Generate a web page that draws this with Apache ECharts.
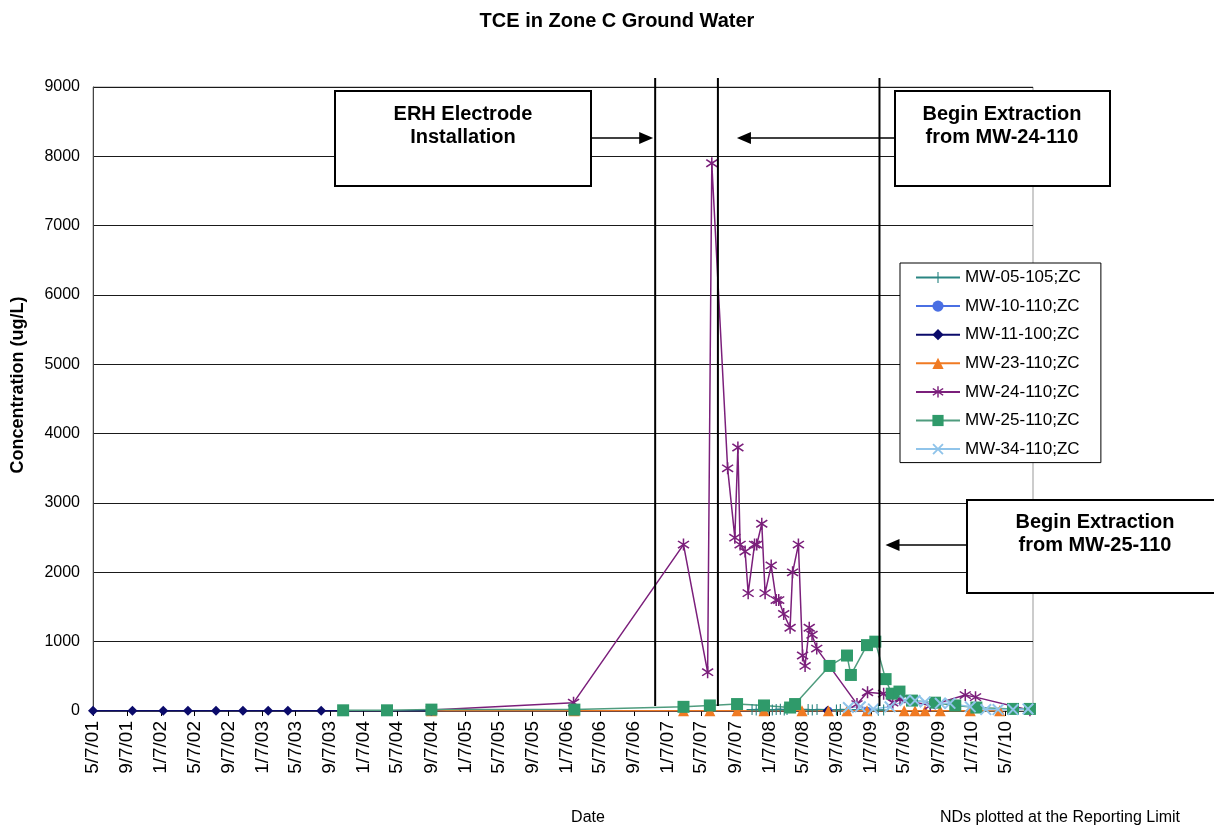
<!DOCTYPE html>
<html>
<head>
<meta charset="utf-8">
<title>TCE in Zone C Ground Water</title>
<script src="https://cdn.jsdelivr.net/npm/echarts@6/dist/echarts.min.js"></script>
<style>
    html, body { margin: 0; padding: 0; background: #fff; }
    #chart { width: 1214px; height: 831px; }
</style>
</head>
<body>
<div id="chart"></div>
<script>
// sampling dates and TCE concentrations (ug/L)
let mw05Dates = ['2007-11-06', '2007-11-21', '2007-12-05', '2008-01-03', '2008-01-18', '2008-02-01', '2008-02-16',
    '2008-03-01', '2008-03-11', '2008-05-26', '2008-06-10', '2008-06-27', '2008-09-05', '2008-09-19', '2009-02-03', '2009-02-22'];
let mw05Vals = [20, 15, 25, 20, 15, 20, 25, 15, 20, 20, 15, 20, 15, 20, 10, 15];

let mw10Dates = ['2008-08-07', '2008-12-24'];
let mw10Vals = [5, 5];

let mw11Dates = ['2001-05-07', '2001-09-26', '2002-01-15', '2002-04-14', '2002-07-24', '2002-10-29', '2003-01-28',
    '2003-04-09', '2003-08-07', '2008-08-04'];
let mw11Vals = [5, 5, 5, 5, 5, 5, 5, 5, 5, 5];

let mw23Dates = ['2004-09-07', '2006-02-04', '2007-03-04', '2007-06-07', '2007-09-13', '2007-12-19', '2008-05-04',
    '2008-08-07', '2008-10-13', '2008-12-24', '2009-05-07', '2009-06-15', '2009-07-21', '2009-09-14', '2009-12-31', '2010-04-16'];
let mw23Vals = [2, 2, 2, 2, 2, 2, 2, 2, 2, 2, 2, 2, 2, 2, 2, 2];

let mw24Dates = ['2004-09-07', '2006-02-01', '2007-03-04', '2007-05-30', '2007-06-14', '2007-08-10', '2007-09-05',
    '2007-09-16', '2007-09-24', '2007-10-12', '2007-10-23', '2007-11-15', '2007-11-23', '2007-12-11', '2007-12-23',
    '2008-01-14', '2008-02-01', '2008-02-10', '2008-02-28', '2008-03-22', '2008-03-31', '2008-04-21', '2008-05-06',
    '2008-05-15', '2008-05-30', '2008-06-09', '2008-06-26', '2008-11-18', '2008-12-26', '2009-02-22', '2009-03-27',
    '2009-04-22', '2009-08-09', '2009-12-13', '2010-01-19', '2010-08-03'];
let mw24Vals = [15, 120, 2400, 560, 7900, 3500, 2500, 3800, 2400, 2300, 1700, 2400, 2400, 2700, 1700, 2100, 1600, 1600,
    1400, 1200, 2000, 2400, 800, 650, 1200, 1100, 900, 100, 270, 250, 120, 170, 80, 230, 200, 10];

let mw25Dates = ['2003-10-25', '2004-03-31', '2004-09-07', '2006-02-04', '2007-03-04', '2007-06-07', '2007-09-13',
    '2007-12-19', '2008-03-22', '2008-04-09', '2008-08-11', '2008-10-13', '2008-10-27', '2008-12-24', '2009-01-23',
    '2009-03-01', '2009-03-23', '2009-04-20', '2009-06-04', '2009-08-26', '2009-11-07', '2010-01-22', '2010-06-03', '2010-08-03'];
let mw25Vals = [10, 10, 20, 20, 60, 80, 100, 80, 50, 100, 650, 800, 520, 950, 1000, 460, 250, 280, 150, 120, 80, 50, 30, 30];

let mw34Dates = ['2008-10-18', '2008-11-30', '2009-01-16', '2009-03-17', '2009-05-10', '2009-06-15', '2009-07-21',
    '2009-09-14', '2009-10-19', '2009-12-31', '2010-02-25', '2010-04-10', '2010-06-03', '2010-07-27'];
let mw34Vals = [50, 60, 30, 60, 150, 150, 130, 110, 110, 60, 20, 20, 20, 30];

// x tick labels, every 4 months
let xTickDates = ['2001-05-07', '2001-09-07', '2002-01-07', '2002-05-07', '2002-09-07', '2003-01-07', '2003-05-07',
    '2003-09-07', '2004-01-07', '2004-05-07', '2004-09-07', '2005-01-07', '2005-05-07', '2005-09-07', '2006-01-07',
    '2006-05-07', '2006-09-07', '2007-01-07', '2007-05-07', '2007-09-07', '2008-01-07', '2008-05-07', '2008-09-07',
    '2009-01-07', '2009-05-07', '2009-09-07', '2010-01-07', '2010-05-07'];
let xMin = '2001-05-07';
let xMax = '2010-08-14';

// remediation events (vertical lines)
let eventDates = ['2006-11-22', '2007-07-06', '2009-02-07'];
let eventLabels = ['ERH Electrode\nInstallation', 'Begin Extraction\nfrom MW-24-110', 'Begin Extraction\nfrom MW-25-110'];

let fontFamily = '"Liberation Sans", Arial, sans-serif';

function toTime(s) {
    let p = s.split('-');
    return new Date(+p[0], p[1] - 1, +p[2]).getTime();
}
function fmtDate(val) {
    let d = new Date(val);
    return (d.getMonth() + 1) + '/' + d.getDate() + '/' + String(d.getFullYear()).slice(2);
}

// symbol paths (filled shapes in a 20x20 box)
let plusPath = 'path://M9,0H11V20H9ZM0,9H20V11H0Z';
let starPath = 'path://M8.9,0H11.1V20H8.9Z' +
    'M2.72,3.04L18.72,15.04L17.28,16.96L1.28,4.96Z' +
    'M1.28,15.04L17.28,3.04L18.72,4.96L2.72,16.96Z';
let crossPath = 'path://M1.5,3.5L3.5,1.5L18.5,16.5L16.5,18.5Z' +
    'M1.5,16.5L16.5,1.5L18.5,3.5L3.5,18.5Z';

function makeSeries(name, dates, vals, color, symbol, size, lineColor) {
    return {
        name: name,
        type: 'line',
        data: dates.map(function (d, i) { return [toTime(d), vals[i]]; }),
        symbol: symbol,
        symbolSize: size,
        showAllSymbol: true,
        itemStyle: { color: color },
        lineStyle: { color: lineColor || color, width: 1.5 },
        emphasis: { disabled: true }
    };
}

let tickTimes = xTickDates.map(toTime);

let chart = echarts.init(document.getElementById('chart'));
let option = {
    animation: false,
    backgroundColor: '#fff',
    textStyle: { fontFamily: fontFamily },
    legend: {
        orient: 'vertical',
        left: 900,
        top: 263,
        padding: [6, 20, 5, 15],
        itemWidth: 44,
        itemHeight: 14,
        itemGap: 11.6,
        backgroundColor: '#fff',
        borderColor: '#000',
        borderWidth: 1,
        borderRadius: 0,
        textStyle: { fontSize: 17, color: '#000', fontFamily: fontFamily }
    },
    grid: {
        left: 93,
        right: 181,
        top: 87,
        bottom: 120,
        show: true,
        borderColor: '#999',
        borderWidth: 1
    },
    xAxis: {
        type: 'value',
        min: toTime(xMin),
        max: toTime(xMax),
        axisLine: { lineStyle: { color: '#444', width: 1 } },
        axisTick: {
            show: true,
            length: 5,
            customValues: tickTimes,
            lineStyle: { color: '#000' }
        },
        axisLabel: {
            rotate: 90,
            fontSize: 19,
            color: '#000',
            margin: 10,
            customValues: tickTimes,
            formatter: fmtDate
        },
        splitLine: { show: false }
    },
    yAxis: {
        type: 'value',
        min: 0,
        max: 9000,
        interval: 1000,
        axisLine: { show: true, lineStyle: { color: '#444' } },
        axisTick: { show: false },
        axisLabel: {
            fontSize: 16,
            color: '#000',
            margin: 13,
            formatter: function (v) { return String(v); }
        },
        splitLine: { lineStyle: { color: '#1a1a1a', width: 1 } }
    },
    series: [
        makeSeries('MW-05-105;ZC', mw05Dates, mw05Vals, '#2a8582', plusPath, 11),
        makeSeries('MW-10-110;ZC', mw10Dates, mw10Vals, '#4a6fe3', 'circle', 8),
        makeSeries('MW-11-100;ZC', mw11Dates, mw11Vals, '#0b0b6b', 'diamond', 10),
        makeSeries('MW-23-110;ZC', mw23Dates, mw23Vals, '#f07a22', 'triangle', 11),
        makeSeries('MW-24-110;ZC', mw24Dates, mw24Vals, '#7b1f7b', starPath, 12),
        makeSeries('MW-25-110;ZC', mw25Dates, mw25Vals, '#2f9a6a', 'rect', 12, '#4f9c7e'),
        makeSeries('MW-34-110;ZC', mw34Dates, mw34Vals, '#90c4ea', crossPath, 12)
    ]
};
chart.setOption(option);

// event lines, boxes and arrows placed from the x scale
let lineX = eventDates.map(function (d) {
    return chart.convertToPixel({ xAxisIndex: 0 }, toTime(d));
});
let boxes = [
    { x: 335, y: 91, w: 256, h: 95, textX: 463, textY: 126, arrowY: 138, from: 591, to: lineX[0] - 2 },
    { x: 895, y: 91, w: 215, h: 95, textX: 1002, textY: 126, arrowY: 138, from: 895, to: lineX[1] + 19 },
    { x: 967, y: 500, w: 260, h: 93, textX: 1095, textY: 534, arrowY: 545, from: 967, to: lineX[2] + 6 }
];
let graphics = [];
lineX.forEach(function (x) {
    graphics.push({
        type: 'line', z: 10,
        shape: { x1: x, y1: 78, x2: x, y2: 706 },
        style: { stroke: '#000', lineWidth: 2 }
    });
});
boxes.forEach(function (b, i) {
    let dir = b.to > b.from ? 1 : -1;
    graphics.push({
        type: 'rect', z: 11,
        shape: { x: b.x, y: b.y, width: b.w, height: b.h },
        style: { fill: '#fff', stroke: '#000', lineWidth: 2 }
    });
    graphics.push({
        type: 'text', z: 12,
        x: b.textX,
        y: b.textY,
        style: {
            text: eventLabels[i],
            fill: '#000',
            font: 'bold 20px ' + fontFamily,
            align: 'center',
            verticalAlign: 'middle',
            lineHeight: 23
        }
    });
    graphics.push({
        type: 'line', z: 11,
        shape: { x1: b.from, y1: b.arrowY, x2: b.to - dir * 10, y2: b.arrowY },
        style: { stroke: '#000', lineWidth: 1.5 }
    });
    graphics.push({
        type: 'polygon', z: 11,
        shape: { points: [[b.to, b.arrowY], [b.to - dir * 14, b.arrowY - 6], [b.to - dir * 14, b.arrowY + 6]] },
        style: { fill: '#000' }
    });
});
// title, axis titles and bottom caption
graphics.push({
    type: 'text', z: 12, x: 617, y: 21,
    style: { text: 'TCE in Zone C Ground Water', fill: '#000', font: 'bold 20px ' + fontFamily, align: 'center', verticalAlign: 'middle' }
});
graphics.push({
    type: 'text', z: 12, x: 18, y: 385, rotation: Math.PI / 2,
    style: { text: 'Concentration (ug/L)', fill: '#000', font: 'bold 18px ' + fontFamily, align: 'center', verticalAlign: 'middle' }
});
graphics.push({
    type: 'text', z: 12, x: 588, y: 818,
    style: { text: 'Date', fill: '#000', font: '16px ' + fontFamily, align: 'center', verticalAlign: 'middle' }
});
graphics.push({
    type: 'text', z: 12, x: 1060, y: 818,
    style: { text: 'NDs plotted at the Reporting Limit', fill: '#000', font: '16px ' + fontFamily, align: 'center', verticalAlign: 'middle' }
});
chart.setOption({ graphic: graphics });
</script>
</body>
</html>
